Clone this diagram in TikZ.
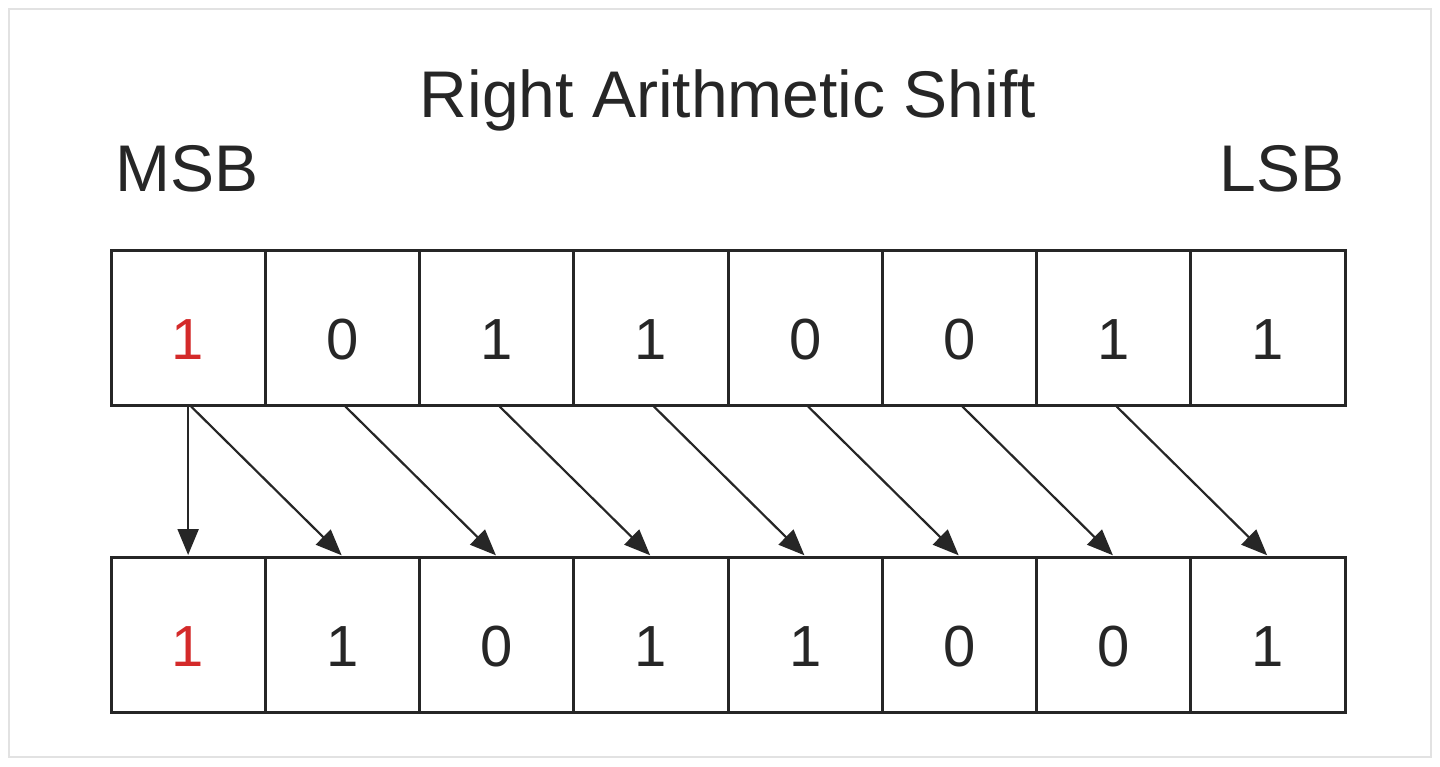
\documentclass[tikz,border=0pt]{standalone}
\usepackage{fontspec}
\setmainfont{Liberation Sans}
\usetikzlibrary{arrows.meta}
\definecolor{ink}{HTML}{262626}
\definecolor{bitred}{HTML}{D42A2A}
\definecolor{frame}{HTML}{E2E2E2}
\tikzset{
  cell/.style={draw=ink, line width=1.5pt, minimum width=77.125pt, minimum height=77.5pt, inner sep=0pt},
  digit/.style={font=\fontsize{29}{29}\selectfont, text=ink, inner sep=0pt, yshift=-6pt},
  lbl/.style={font=\fontsize{33}{33}\selectfont, text=ink, inner sep=0pt},
  shiftarrow/.style={draw=ink, line width=1.1pt, -{Triangle[length=13pt,width=10.5pt]}, shorten >=0.5pt}
}
\begin{document}
\begin{tikzpicture}[x=0.5pt,y=-0.5pt]
\useasboundingbox (0,0) rectangle (1440,766);
\fill[white] (0,0) rectangle (1440,766);
\draw[frame, line width=1.2pt] (9,9) rectangle (1431,757);
\node[lbl, anchor=base] (title) at (728,117) {Right Arithmetic Shift};
\node[lbl, anchor=base] (msb) at (187,191) {MSB};
\node[lbl, anchor=base] (lsb) at (1282,191) {LSB};
\foreach \i/\t/\b in {1/1/1,2/0/1,3/1/0,4/1/1,5/0/1,6/0/0,7/1/0,8/1/1} {
  \pgfmathsetmacro{\cx}{111+154.25*(\i-0.5)}
  \ifnum\i=1
    \node[cell, label={[digit, text=bitred]center:\t}] (t\i) at (\cx,327.5) {};
    \node[cell, label={[digit, text=bitred]center:\b}] (b\i) at (\cx,635) {};
  \else
    \node[cell, label={[digit]center:\t}] (t\i) at (\cx,327.5) {};
    \node[cell, label={[digit]center:\b}] (b\i) at (\cx,635) {};
  \fi
}
\draw[shiftarrow] (t1.south) -- (b1.north);
\foreach \i [evaluate=\i as \j using int(\i+1)] in {1,...,7} {
  \draw[shiftarrow] ([xshift=1.5pt]t\i.south) -- (b\j.north);
}
\end{tikzpicture}
\end{document}
